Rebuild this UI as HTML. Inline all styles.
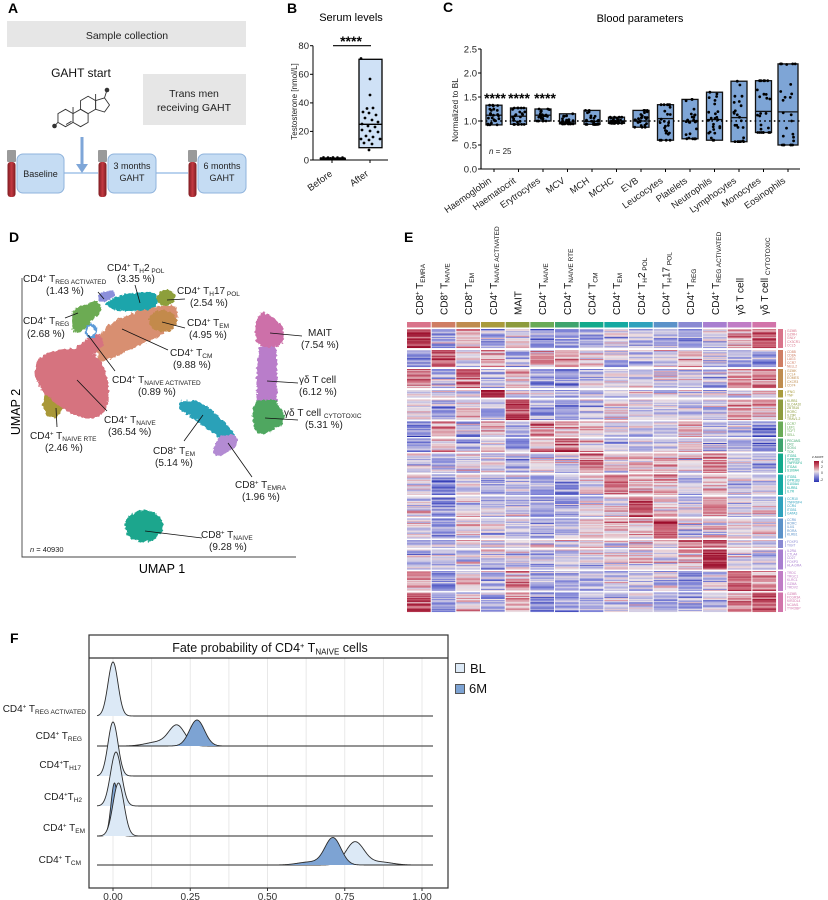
<!DOCTYPE html>
<html><head><meta charset="utf-8">
<style>
html,body{margin:0;padding:0;background:#fff;}
svg{display:block;font-family:"Liberation Sans",Arial,sans-serif;}
</style></head><body>
<svg width="828" height="900" viewBox="0 0 828 900" xmlns="http://www.w3.org/2000/svg">
<rect width="828" height="900" fill="#fff"/>
<defs>
<filter id="rough" x="-15%" y="-15%" width="130%" height="130%">
<feTurbulence type="fractalNoise" baseFrequency="0.3" numOctaves="2" seed="4"/>
<feDisplacementMap in="SourceGraphic" scale="5" xChannelSelector="R" yChannelSelector="G"/>
</filter>
<linearGradient id="tube" x1="0" x2="1"><stop offset="0" stop-color="#7d1a20"/><stop offset="0.5" stop-color="#c53a42"/><stop offset="1" stop-color="#7d1a20"/></linearGradient>
<linearGradient id="zs" x1="0" y1="0" x2="0" y2="1"><stop offset="0" stop-color="#a0102d"/><stop offset="0.25" stop-color="#cd6474"/><stop offset="0.5" stop-color="#ebe1e3"/><stop offset="0.75" stop-color="#8387d6"/><stop offset="1" stop-color="#2832b0"/></linearGradient>
</defs>

<!-- panel letters -->
<g font-weight="bold" font-size="14" fill="#000">
<text x="8" y="13">A</text><text x="287" y="13">B</text><text x="443" y="12">C</text>
<text x="9" y="242">D</text><text x="404" y="242">E</text><text x="10" y="643">F</text>
</g>

<!-- ===== Panel A ===== -->
<rect x="7" y="21" width="239" height="26" fill="#e6e6e6"/>
<text x="127" y="39" font-size="10.5" text-anchor="middle" fill="#222">Sample collection</text>
<text x="81" y="77" font-size="12" text-anchor="middle" fill="#111">GAHT start</text>
<rect x="143" y="74" width="103" height="51" fill="#e6e6e6"/>
<text x="194" y="97" font-size="10.5" text-anchor="middle" fill="#222">Trans men</text>
<text x="194" y="111" font-size="10.5" text-anchor="middle" fill="#222">receiving GAHT</text>
<g stroke="#333" stroke-width="0.9" fill="none">
<polygon points="65.5,109.3 73.03,113.65 73.03,122.35 65.5,126.7 57.97,122.35 57.97,113.65"/>
<polygon points="80.57,109.3 88.1,113.65 88.1,122.35 80.57,126.7 73.03,122.35 73.03,113.65"/>
<polygon points="88.1,96.25 95.63,100.6 95.63,109.3 88.1,113.65 80.57,109.3 80.57,100.6"/>
<polygon points="95.63,100.6 95.63,109.3 104.5,112 109.5,104.95 104.5,97.9"/>
<line x1="66" y1="124.5" x2="71.5" y2="121.3"/>
<line x1="104.5" y1="97.9" x2="107" y2="90"/>
<line x1="57.97" y1="122.35" x2="54.5" y2="126"/>
<line x1="73.03" y1="113.65" x2="73.03" y2="107"/>
<line x1="95.63" y1="100.6" x2="95.63" y2="94"/>
</g>
<circle cx="107" cy="90" r="2.3" fill="#333"/>
<circle cx="54.5" cy="126" r="2.3" fill="#333"/>
<line x1="82" y1="137" x2="82" y2="165" stroke="#7ea6d8" stroke-width="3"/>
<polygon points="76,164 88,164 82,173" fill="#7ea6d8"/>
<g stroke="#8fb6e3" stroke-width="1.2"><line x1="63" y1="173" x2="98" y2="173"/><line x1="156" y1="173" x2="188" y2="173"/></g>
<g>
<rect x="7" y="150" width="9" height="12" rx="1" fill="#9a9a9a"/><rect x="7.5" y="162" width="8" height="35" rx="3" fill="url(#tube)"/>
<rect x="98" y="150" width="9" height="12" rx="1" fill="#9a9a9a"/><rect x="98.5" y="162" width="8" height="35" rx="3" fill="url(#tube)"/>
<rect x="188" y="150" width="9" height="12" rx="1" fill="#9a9a9a"/><rect x="188.5" y="162" width="8" height="35" rx="3" fill="url(#tube)"/>
</g>
<g fill="#c5dcf3" stroke="#8fb3dc" stroke-width="1">
<rect x="17" y="154" width="47" height="39" rx="6"/>
<rect x="108" y="154" width="48" height="39" rx="6"/>
<rect x="198" y="154" width="48" height="39" rx="6"/>
</g>
<g font-size="9" text-anchor="middle" fill="#222">
<text x="40.5" y="177">Baseline</text>
<text x="132" y="169">3 months</text><text x="132" y="181">GAHT</text>
<text x="222" y="169">6 months</text><text x="222" y="181">GAHT</text>
</g>

<!-- ===== Panel B ===== -->
<text x="351" y="21" font-size="11" text-anchor="middle">Serum levels</text>
<text x="351" y="46" font-size="14" text-anchor="middle" font-weight="bold">****</text>
<line x1="333" y1="45.7" x2="371" y2="45.7" stroke="#000" stroke-width="1.2"/>
<path d="M313,45.7 V160 H388" stroke="#000" stroke-width="1" fill="none"/>
<g stroke="#000" stroke-width="1">
<line x1="310" y1="45.7" x2="313" y2="45.7"/><line x1="310" y1="74.3" x2="313" y2="74.3"/><line x1="310" y1="102.9" x2="313" y2="102.9"/><line x1="310" y1="131.4" x2="313" y2="131.4"/><line x1="310" y1="160" x2="313" y2="160"/>
<line x1="332" y1="160" x2="332" y2="163"/><line x1="370" y1="160" x2="370" y2="163"/>
</g>
<g font-size="9.5" text-anchor="end" fill="#222">
<text x="309" y="49">80</text><text x="309" y="77.6">60</text><text x="309" y="106.2">40</text><text x="309" y="134.7">20</text><text x="309" y="163.3">0</text>
</g>
<text transform="translate(297,101.5) rotate(-90)" font-size="8" text-anchor="middle" fill="#222">Testosterone [nmol/L]</text>
<rect x="359" y="59.3" width="23" height="88.4" fill="#cfe1f6" stroke="#000" stroke-width="1.3"/>
<line x1="359" y1="124.3" x2="382" y2="124.3" stroke="#000" stroke-width="1.3"/>
<g fill="#000">
<circle cx="361" cy="58.5" r="1.4"/><circle cx="370" cy="79" r="1.4"/><circle cx="370" cy="95" r="1.4"/><circle cx="367" cy="108.5" r="1.4"/><circle cx="373" cy="108" r="1.4"/>
<circle cx="363" cy="112" r="1.4"/><circle cx="369" cy="113" r="1.4"/><circle cx="376" cy="115" r="1.4"/><circle cx="365" cy="118" r="1.4"/><circle cx="372" cy="120" r="1.4"/>
<circle cx="378" cy="122" r="1.4"/><circle cx="362" cy="124" r="1.4"/><circle cx="368" cy="126" r="1.4"/><circle cx="375" cy="127" r="1.4"/><circle cx="362" cy="130" r="1.4"/>
<circle cx="370" cy="131" r="1.4"/><circle cx="378" cy="132" r="1.4"/><circle cx="366" cy="136" r="1.4"/><circle cx="373" cy="137" r="1.4"/><circle cx="361" cy="139" r="1.4"/>
<circle cx="369" cy="140" r="1.4"/><circle cx="380" cy="139" r="1.4"/><circle cx="364" cy="143" r="1.4"/><circle cx="372" cy="144" r="1.4"/><circle cx="369" cy="150" r="1.4"/>
<circle cx="321" cy="158.5" r="1.4"/><circle cx="323.5" cy="157.5" r="1.4"/><circle cx="326" cy="158.7" r="1.4"/><circle cx="328" cy="157.6" r="1.4"/><circle cx="330.5" cy="158.4" r="1.4"/>
<circle cx="333" cy="157.5" r="1.4"/><circle cx="335" cy="158.8" r="1.4"/><circle cx="337.5" cy="157.7" r="1.4"/><circle cx="340" cy="158.5" r="1.4"/><circle cx="342.5" cy="157.6" r="1.4"/><circle cx="344.5" cy="158.6" r="1.4"/>
</g>
<line x1="320" y1="159" x2="346" y2="159" stroke="#000" stroke-width="1.2"/>
<g font-size="9.5" text-anchor="end" fill="#222">
<text transform="translate(333,175) rotate(-36)">Before</text>
<text transform="translate(369,175) rotate(-36)">After</text>
</g>

<!-- ===== Panel C ===== -->
<text x="640" y="22" font-size="11" text-anchor="middle">Blood parameters</text>
<g id="cbox"></g>
<path d="M481,121 H800" stroke="#000" stroke-width="1.6" stroke-dasharray="1.6,3.2" fill="none"/>
<path d="M481,49 V169 H800" stroke="#000" stroke-width="1.1" fill="none"/>
<g stroke="#000" stroke-width="1">
<line x1="478" y1="49" x2="481" y2="49"/><line x1="478" y1="73" x2="481" y2="73"/><line x1="478" y1="97" x2="481" y2="97"/><line x1="478" y1="121" x2="481" y2="121"/><line x1="478" y1="145" x2="481" y2="145"/><line x1="478" y1="169" x2="481" y2="169"/>
</g>
<g id="cticks" stroke="#000" stroke-width="1"></g>
<g font-size="9.5" text-anchor="end" fill="#222">
<text x="477" y="52.4">2.5</text><text x="477" y="76.4">2.0</text><text x="477" y="100.4">1.5</text><text x="477" y="124.4">1.0</text><text x="477" y="148.4">0.5</text><text x="477" y="172.4">0.0</text>
</g>
<text transform="translate(458,110) rotate(-90)" font-size="8.3" text-anchor="middle" fill="#222">Normalized to BL</text>
<text x="489" y="154" font-size="8" fill="#222"><tspan font-style="italic">n</tspan> = 25</text>
<g font-size="14" font-weight="bold" text-anchor="middle">
<text x="495" y="103">****</text><text x="519" y="103">****</text><text x="545" y="103">****</text>
</g>
<g font-size="9.3" text-anchor="end" fill="#222">
<text transform="translate(492,182) rotate(-35)">Haemoglobin</text>
<text transform="translate(516.5,182) rotate(-35)">Haematocrit</text>
<text transform="translate(541,182) rotate(-35)">Erytrocytes</text>
<text transform="translate(565.5,182) rotate(-35)">MCV</text>
<text transform="translate(590,182) rotate(-35)">MCH</text>
<text transform="translate(614.5,182) rotate(-35)">MCHC</text>
<text transform="translate(639,182) rotate(-35)">EVB</text>
<text transform="translate(663.5,182) rotate(-35)">Leucocytes</text>
<text transform="translate(688,182) rotate(-35)">Platelets</text>
<text transform="translate(712.5,182) rotate(-35)">Neutrophils</text>
<text transform="translate(737,182) rotate(-35)">Lymphocytes</text>
<text transform="translate(761.5,182) rotate(-35)">Monocytes</text>
<text transform="translate(786,182) rotate(-35)">Eosinophils</text>
</g>

<!-- ===== Panel D ===== -->
<g filter="url(#rough)">
<ellipse cx="53" cy="404" rx="10" ry="14" fill="#a99839"/>
<path d="M97,362 L98,340 L105,328 L120,318 L140,310 L160,306 L176,306 L178,318 L172,328 L160,336 L145,343 L125,352 L108,360 Z" fill="#d88f71"/>
<path d="M70,352 L88,338 L100,334 L104,345 L95,354 Z" fill="#d6737f"/>
<path d="M35,368 C38,352 60,347 80,349 C98,351 106,368 108,385 C110,402 106,416 94,418 C80,420 62,410 50,398 C40,390 34,380 35,368 Z" fill="#d6737f"/>
<ellipse cx="163" cy="321" rx="14" ry="11" fill="#c38a4c"/>
<path d="M105,304 C112,297 125,294 140,292 C150,291 157,293 158,300 C158,307 150,310 138,311 C125,312 112,311 105,304 Z" fill="#1ea5ab"/>
<ellipse cx="166" cy="298" rx="9" ry="8" fill="#8d9f3b"/>
<ellipse cx="106" cy="296" rx="9" ry="5" fill="#8b8fdb" transform="rotate(-20 106 296)"/>
<path d="M73,312 C78,305 88,302 98,302 L102,308 C98,316 90,324 80,332 L74,333 C71,325 71,318 73,312 Z" fill="#6cab52"/>
<ellipse cx="91" cy="331" rx="5" ry="6" fill="none" stroke="#5b9bd8" stroke-width="2.5"/>
<path d="M260,313 C265,311 270,315 275,320 C282,323 285,330 284,340 C283,346 275,348 266,348 C258,347 255,340 255,332 C255,324 257,318 260,313 Z" fill="#cd70a9"/>
<path d="M259,347 L276,347 C278,360 277,380 277,395 L276,403 L257,403 C256,390 256,370 259,347 Z" fill="#b97dca"/>
<path d="M256,400 L276,400 C278,406 282,410 284,414 C285,420 283,426 276,428 C272,432 266,435 258,434 C253,428 252,418 253,410 C254,405 255,402 256,400 Z" fill="#4fa761"/>
<path d="M180,402 C188,399 198,401 205,405 C213,410 220,418 228,426 C234,432 238,440 236,446 L228,447 C222,440 214,434 206,428 C198,421 190,416 183,412 C179,409 178,405 180,402 Z" fill="#2ca1b8"/>
<path d="M221,436 C228,433 236,434 238,440 C238,446 232,450 226,453 C220,456 214,458 213,453 C213,446 216,440 221,436 Z" fill="#b38bd3"/>
<ellipse cx="144" cy="526" rx="19" ry="16" fill="#1ba68d"/>
</g>
<path d="M22,278 V557 H296" stroke="#444" stroke-width="0.9" fill="none"/>
<text transform="translate(20,412) rotate(-90)" font-size="12.5" text-anchor="middle">UMAP 2</text>
<text x="162" y="573" font-size="12.5" text-anchor="middle">UMAP 1</text>
<text x="30" y="552" font-size="7.5" fill="#222"><tspan font-style="italic">n</tspan> = 40930</text>
<g stroke="#111" stroke-width="0.8">
<line x1="98" y1="292" x2="104" y2="299"/><line x1="135" y1="285" x2="140" y2="303"/><line x1="167" y1="300" x2="185" y2="299"/>
<line x1="65" y1="318" x2="78" y2="313"/><line x1="162" y1="322" x2="185" y2="328"/><line x1="270" y1="333" x2="302" y2="336"/>
<line x1="122" y1="329" x2="168" y2="350"/><line x1="88" y1="335" x2="115" y2="371"/><line x1="267" y1="381" x2="298" y2="383"/>
<line x1="265" y1="418" x2="298" y2="420"/><line x1="77" y1="380" x2="107" y2="411"/><line x1="56" y1="408" x2="57" y2="427"/>
<line x1="203" y1="415" x2="184" y2="441"/><line x1="228" y1="443" x2="252" y2="477"/><line x1="145" y1="531" x2="202" y2="538"/>
</g>
<g font-size="10" fill="#222">
<text x="23" y="282">CD4<tspan font-size="6" dy="-3.5">+</tspan><tspan dy="3.5"> T</tspan><tspan font-size="6.5" dy="2">REG ACTIVATED</tspan></text>
<text x="46" y="294">(1.43 %)</text>
<text x="107" y="271">CD4<tspan font-size="6" dy="-3.5">+</tspan><tspan dy="3.5"> T</tspan><tspan font-size="6.5" dy="2">H</tspan><tspan dy="-2">2</tspan><tspan font-size="6.5" dy="2"> POL</tspan></text>
<text x="117" y="282">(3.35 %)</text>
<text x="177" y="294">CD4<tspan font-size="6" dy="-3.5">+</tspan><tspan dy="3.5"> T</tspan><tspan font-size="6.5" dy="2">H</tspan><tspan dy="-2">17</tspan><tspan font-size="6.5" dy="2"> POL</tspan></text>
<text x="190" y="306">(2.54 %)</text>
<text x="23" y="324">CD4<tspan font-size="6" dy="-3.5">+</tspan><tspan dy="3.5"> T</tspan><tspan font-size="6.5" dy="2">REG</tspan></text>
<text x="27" y="337">(2.68 %)</text>
<text x="187" y="326">CD4<tspan font-size="6" dy="-3.5">+</tspan><tspan dy="3.5"> T</tspan><tspan font-size="6.5" dy="2">EM</tspan></text>
<text x="189" y="338">(4.95 %)</text>
<text x="308" y="336">MAIT</text>
<text x="301" y="348">(7.54 %)</text>
<text x="170" y="356">CD4<tspan font-size="6" dy="-3.5">+</tspan><tspan dy="3.5"> T</tspan><tspan font-size="6.5" dy="2">CM</tspan></text>
<text x="173" y="368">(9.88 %)</text>
<text x="112" y="383">CD4<tspan font-size="6" dy="-3.5">+</tspan><tspan dy="3.5"> T</tspan><tspan font-size="6.5" dy="2">NAIVE ACTIVATED</tspan></text>
<text x="138" y="395">(0.89 %)</text>
<text x="299" y="383">γδ T cell</text>
<text x="299" y="395">(6.12 %)</text>
<text x="284" y="416">γδ T cell <tspan font-size="6.5" dy="2">CYTOTOXIC</tspan></text>
<text x="305" y="428">(5.31 %)</text>
<text x="104" y="423">CD4<tspan font-size="6" dy="-3.5">+</tspan><tspan dy="3.5"> T</tspan><tspan font-size="6.5" dy="2">NAIVE</tspan></text>
<text x="108" y="435">(36.54 %)</text>
<text x="30" y="439">CD4<tspan font-size="6" dy="-3.5">+</tspan><tspan dy="3.5"> T</tspan><tspan font-size="6.5" dy="2">NAIVE RTE</tspan></text>
<text x="45" y="451">(2.46 %)</text>
<text x="153" y="454">CD8<tspan font-size="6" dy="-3.5">+</tspan><tspan dy="3.5"> T</tspan><tspan font-size="6.5" dy="2">EM</tspan></text>
<text x="155" y="466">(5.14 %)</text>
<text x="235" y="488">CD8<tspan font-size="6" dy="-3.5">+</tspan><tspan dy="3.5"> T</tspan><tspan font-size="6.5" dy="2">EMRA</tspan></text>
<text x="242" y="500">(1.96 %)</text>
<text x="201" y="538">CD8<tspan font-size="6" dy="-3.5">+</tspan><tspan dy="3.5"> T</tspan><tspan font-size="6.5" dy="2">NAIVE</tspan></text>
<text x="209" y="550">(9.28 %)</text>
</g>

<!-- ===== Panel E ===== -->
<g font-size="10" fill="#111">
<text transform="translate(422.8,315) rotate(-90)">CD8<tspan font-size="6" dy="-3.5">+</tspan><tspan dy="3.5"> T</tspan><tspan font-size="6.5" dy="2">EMRA</tspan></text>
<text transform="translate(447.5,315) rotate(-90)">CD8<tspan font-size="6" dy="-3.5">+</tspan><tspan dy="3.5"> T</tspan><tspan font-size="6.5" dy="2">NAIVE</tspan></text>
<text transform="translate(472.1,315) rotate(-90)">CD8<tspan font-size="6" dy="-3.5">+</tspan><tspan dy="3.5"> T</tspan><tspan font-size="6.5" dy="2">EM</tspan></text>
<text transform="translate(496.8,315) rotate(-90)">CD4<tspan font-size="6" dy="-3.5">+</tspan><tspan dy="3.5"> T</tspan><tspan font-size="6.5" dy="2">NAIVE ACTIVATED</tspan></text>
<text transform="translate(521.5,315) rotate(-90)">MAIT</text>
<text transform="translate(546.1,315) rotate(-90)">CD4<tspan font-size="6" dy="-3.5">+</tspan><tspan dy="3.5"> T</tspan><tspan font-size="6.5" dy="2">NAIVE</tspan></text>
<text transform="translate(570.8,315) rotate(-90)">CD4<tspan font-size="6" dy="-3.5">+</tspan><tspan dy="3.5"> T</tspan><tspan font-size="6.5" dy="2">NAIVE RTE</tspan></text>
<text transform="translate(595.5,315) rotate(-90)">CD4<tspan font-size="6" dy="-3.5">+</tspan><tspan dy="3.5"> T</tspan><tspan font-size="6.5" dy="2">CM</tspan></text>
<text transform="translate(620.1,315) rotate(-90)">CD4<tspan font-size="6" dy="-3.5">+</tspan><tspan dy="3.5"> T</tspan><tspan font-size="6.5" dy="2">EM</tspan></text>
<text transform="translate(644.8,315) rotate(-90)">CD4<tspan font-size="6" dy="-3.5">+</tspan><tspan dy="3.5"> T</tspan><tspan font-size="6.5" dy="2">H</tspan><tspan dy="-2">2</tspan><tspan font-size="6.5" dy="2"> POL</tspan></text>
<text transform="translate(669.5,315) rotate(-90)">CD4<tspan font-size="6" dy="-3.5">+</tspan><tspan dy="3.5"> T</tspan><tspan font-size="6.5" dy="2">H</tspan><tspan dy="-2">17</tspan><tspan font-size="6.5" dy="2"> POL</tspan></text>
<text transform="translate(694.1,315) rotate(-90)">CD4<tspan font-size="6" dy="-3.5">+</tspan><tspan dy="3.5"> T</tspan><tspan font-size="6.5" dy="2">REG</tspan></text>
<text transform="translate(718.8,315) rotate(-90)">CD4<tspan font-size="6" dy="-3.5">+</tspan><tspan dy="3.5"> T</tspan><tspan font-size="6.5" dy="2">REG ACTIVATED</tspan></text>
<text transform="translate(743.5,315) rotate(-90)">γδ T cell</text>
<text transform="translate(768.1,315) rotate(-90)">γδ T cell <tspan font-size="6.5" dy="2">CYTOTOXIC</tspan></text>
</g>
<g id="hmtop"></g>
<g id="hm"></g>
<g id="hmside"></g>
<g font-size="3.3">
<text x="787" y="332" fill="#d9738a"><tspan x="787">GZMB</tspan><tspan x="787" dy="3.6">GZMH</tspan><tspan x="787" dy="3.6">GNLY</tspan><tspan x="787" dy="3.6">CX3CR1</tspan><tspan x="787" dy="3.6">CCL5</tspan></text>
<text x="787" y="353" fill="#cf7d63"><tspan x="787">CD8B</tspan><tspan x="787" dy="3.6">CD8A</tspan><tspan x="787" dy="3.6">LAG3</tspan><tspan x="787" dy="3.6">CCR7</tspan><tspan x="787" dy="3.6">NELL2</tspan></text>
<text x="787" y="372" fill="#bf8c4e"><tspan x="787">GZMK</tspan><tspan x="787" dy="3.6">CCL4</tspan><tspan x="787" dy="3.6">EOMES</tspan><tspan x="787" dy="3.6">CXCR3</tspan><tspan x="787" dy="3.6">CD74</tspan></text>
<text x="787" y="393" fill="#a99b3c"><tspan x="787">IFNG</tspan><tspan x="787" dy="3.6">TNF</tspan></text>
<text x="787" y="402" fill="#8d9b3d"><tspan x="787">KLRB1</tspan><tspan x="787" dy="3.6">SLC4A10</tspan><tspan x="787" dy="3.6">ZBTB16</tspan><tspan x="787" dy="3.6">RORC</tspan><tspan x="787" dy="3.6">IL23R</tspan><tspan x="787" dy="3.6">TRAV1-2</tspan></text>
<text x="787" y="425" fill="#6aab57"><tspan x="787">CCR7</tspan><tspan x="787" dy="3.6">LEF1</tspan><tspan x="787" dy="3.6">TCF7</tspan><tspan x="787" dy="3.6">SELL</tspan></text>
<text x="787" y="442" fill="#3ea46e"><tspan x="787">PECAM1</tspan><tspan x="787" dy="3.6">CR2</tspan><tspan x="787" dy="3.6">SOX4</tspan><tspan x="787" dy="3.6">TOX</tspan></text>
<text x="787" y="457" fill="#12aa8c"><tspan x="787">ITGB1</tspan><tspan x="787" dy="3.6">GPR183</tspan><tspan x="787" dy="3.6">TNFRSF4</tspan><tspan x="787" dy="3.6">ITGA4</tspan><tspan x="787" dy="3.6">S100A4</tspan></text>
<text x="787" y="478" fill="#14a9a2"><tspan x="787">ITGB1</tspan><tspan x="787" dy="3.6">GPR183</tspan><tspan x="787" dy="3.6">S100A4</tspan><tspan x="787" dy="3.6">KLRB1</tspan><tspan x="787" dy="3.6">IL7R</tspan></text>
<text x="787" y="500" fill="#2fa2bd"><tspan x="787">CCR10</tspan><tspan x="787" dy="3.6">TNFRSF4</tspan><tspan x="787" dy="3.6">CCR4</tspan><tspan x="787" dy="3.6">ITGB1</tspan><tspan x="787" dy="3.6">GATA3</tspan></text>
<text x="787" y="521" fill="#5b92c9"><tspan x="787">CCR6</tspan><tspan x="787" dy="3.6">RORC</tspan><tspan x="787" dy="3.6">IL4I1</tspan><tspan x="787" dy="3.6">RORA</tspan><tspan x="787" dy="3.6">KLRB1</tspan></text>
<text x="787" y="543" fill="#8a8ad3"><tspan x="787">FOXP3</tspan><tspan x="787" dy="3.6">TIGIT</tspan></text>
<text x="787" y="552" fill="#a87ed0"><tspan x="787">IL2RA</tspan><tspan x="787" dy="3.6">CTLA4</tspan><tspan x="787" dy="3.6">CD27</tspan><tspan x="787" dy="3.6">FOXP3</tspan><tspan x="787" dy="3.6">HLA-DRA</tspan></text>
<text x="787" y="574" fill="#c07dc6"><tspan x="787">TRDC</tspan><tspan x="787" dy="3.6">TRGC1</tspan><tspan x="787" dy="3.6">KLRC1</tspan><tspan x="787" dy="3.6">GZMA</tspan><tspan x="787" dy="3.6">TRDV2</tspan></text>
<text x="787" y="595" fill="#d274aa"><tspan x="787">GZMB</tspan><tspan x="787" dy="3.6">FCGR3A</tspan><tspan x="787" dy="3.6">KIR2DL4</tspan><tspan x="787" dy="3.6">NCAM1</tspan><tspan x="787" dy="3.6">TYROBP</tspan></text>
</g>
<text x="812" y="458" font-size="3.5" fill="#333">z-score</text>
<rect x="814" y="461" width="5" height="21" fill="url(#zs)"/>
<g font-size="3.5" fill="#333"><text x="821" y="463">4</text><text x="821" y="468">2</text><text x="821" y="474">0</text><text x="820" y="481">-2</text></g>

<!-- ===== Panel F ===== -->
<g id="fgrid" stroke="#e6e6e6" stroke-width="0.9"></g>
<g id="ridges"></g>
<rect x="89" y="635" width="359" height="253" fill="none" stroke="#333" stroke-width="1.2"/>
<line x1="89" y1="658" x2="448" y2="658" stroke="#333" stroke-width="1.2"/>
<text x="270" y="652" font-size="12.5" text-anchor="middle" fill="#111">Fate probability of CD4<tspan font-size="7.5" dy="-4">+</tspan><tspan dy="4"> T</tspan><tspan font-size="8" dy="2.5">NAIVE</tspan><tspan dy="-2.5"> cells</tspan></text>
<g stroke="#333" stroke-width="1">
<line x1="113" y1="888" x2="113" y2="891"/><line x1="190.25" y1="888" x2="190.25" y2="891"/><line x1="267.5" y1="888" x2="267.5" y2="891"/><line x1="344.75" y1="888" x2="344.75" y2="891"/><line x1="422" y1="888" x2="422" y2="891"/>
</g>
<g font-size="10" text-anchor="middle" fill="#333">
<text x="113" y="900">0.00</text><text x="190.25" y="900">0.25</text><text x="267.5" y="900">0.50</text><text x="344.75" y="900">0.75</text><text x="422" y="900">1.00</text>
</g>
<g font-size="10" text-anchor="end" fill="#222">
<text x="86" y="712">CD4<tspan font-size="6" dy="-3.5">+</tspan><tspan dy="3.5"> T</tspan><tspan font-size="6.5" dy="2">REG ACTIVATED</tspan></text>
<text x="82" y="739">CD4<tspan font-size="6" dy="-3.5">+</tspan><tspan dy="3.5"> T</tspan><tspan font-size="6.5" dy="2">REG</tspan></text>
<text x="81" y="768">CD4<tspan font-size="6" dy="-3.5">+</tspan><tspan dy="3.5">T</tspan><tspan font-size="6.5" dy="2">H17</tspan></text>
<text x="82" y="800">CD4<tspan font-size="6" dy="-3.5">+</tspan><tspan dy="3.5">T</tspan><tspan font-size="6.5" dy="2">H2</tspan></text>
<text x="85" y="831">CD4<tspan font-size="6" dy="-3.5">+</tspan><tspan dy="3.5"> T</tspan><tspan font-size="6.5" dy="2">EM</tspan></text>
<text x="81" y="863">CD4<tspan font-size="6" dy="-3.5">+</tspan><tspan dy="3.5"> T</tspan><tspan font-size="6.5" dy="2">CM</tspan></text>
</g>
<rect x="455.5" y="663.5" width="9" height="9" fill="#dce9f6" stroke="#555" stroke-width="1"/>
<rect x="455.5" y="684.5" width="9" height="9" fill="#7da3d3" stroke="#555" stroke-width="1"/>
<text x="470" y="673" font-size="13" fill="#111">BL</text>
<text x="469" y="693" font-size="13" fill="#111">6M</text>
</svg>

<script>
(function(){
var seed=987654;
function r(){seed=(seed*1103515245+12345)%2147483648;return seed/2147483648;}
function gn(){return r()+r()+r()-1.5;}
/* ---- Panel C ---- */
function Y(v){return 169-48*v;}
var cats=[[1.33,0.92,1.12],[1.27,0.93,1.10],[1.25,1.00,1.12],[1.15,0.94,0.98],[1.22,0.93,0.99],[1.08,0.95,1.00],[1.22,0.87,1.00],[1.34,0.60,1.05],[1.45,0.63,1.00],[1.60,0.60,1.03],[1.83,0.57,1.07],[1.84,0.76,1.20],[2.19,0.50,1.19]];
var out=[],tk=[];
cats.forEach(function(d,i){var cx=494+24.5*i,w=(i==12?20:16);
 tk.push('<line x1="'+cx+'" x2="'+cx+'" y1="169" y2="172"/>');
 out.push('<rect x="'+(cx-w/2)+'" y="'+Y(d[0]).toFixed(1)+'" width="'+w+'" height="'+(Y(d[1])-Y(d[0])).toFixed(1)+'" fill="#7ea5d6" stroke="#111" stroke-width="1.3"/>');
 out.push('<line x1="'+(cx-w/2)+'" x2="'+(cx+w/2)+'" y1="'+Y(d[2]).toFixed(1)+'" y2="'+Y(d[2]).toFixed(1)+'" stroke="#111" stroke-width="1.3"/>');
 for(var k=0;k<25;k++){var v;
  if(k==0)v=d[0];else if(k==1)v=d[1];else{v=d[2]+gn()*(d[0]-d[1])*0.75;v=Math.max(d[1],Math.min(d[0],v));}
  var x=cx+(r()-0.5)*(w-3);
  out.push('<circle cx="'+x.toFixed(1)+'" cy="'+Y(v).toFixed(1)+'" r="1.4" fill="#000"/>');}
});
document.getElementById('cbox').innerHTML=out.join('');
document.getElementById('cticks').innerHTML=tk.join('');

/* ---- Panel E heatmap ---- */
var cc=["#d9738a","#cf7d63","#bf8c4e","#a99b3c","#8d9b3d","#6aab57","#3ea46e","#12aa8c","#14a9a2","#2fa2bd","#5b92c9","#8a8ad3","#a87ed0","#c07dc6","#d274aa"];
var blocks=[[329,348],[350,367],[369,388],[390,397.5],[399.5,420],[421.5,437],[438.5,452],[453.5,473],[474.5,495],[496.5,517],[518.5,538.5],[540,548],[549.5,569.5],[571,591],[592.5,612]];
var M=[
[1.8,-0.8,0.3,-0.6,0.1,-0.8,-0.8,-0.7,-0.3,-0.5,-0.6,-0.8,-0.3,0.5,1.2],
[-1.0,1.2,-0.2,0.4,-0.6,0.5,0.5,0,-0.4,-0.4,-0.4,0.3,-0.3,-0.5,-0.7],
[0.9,-0.5,0.9,-0.6,0.2,-0.8,-0.9,-0.3,0,-0.2,-0.4,-0.3,-0.4,0.6,0.7],
[-0.2,-0.4,0,2.0,0.1,-0.4,-0.2,0,-0.1,-0.1,-0.1,-0.1,-0.2,-0.2,0],
[0.3,-0.6,0.2,-0.5,1.5,-0.7,-0.6,-0.3,0,-0.2,-0.2,-0.5,-0.4,0.6,0.4],
[-1.2,0.4,-0.5,0.5,-0.6,0.7,0.5,0,-0.3,-0.4,-0.4,0.3,-0.4,-0.7,-1.0],
[-0.8,0.4,-0.4,0.2,-0.7,0.6,1.3,0.1,-0.3,-0.2,-0.3,0.1,-0.3,-0.6,-0.7],
[-0.3,-0.6,-0.2,-0.1,-0.5,-0.2,-0.3,0.7,0.1,0.4,0.2,0,0.9,-0.4,-0.6],
[-0.2,-0.9,-0.1,-0.4,-0.3,-0.7,-0.7,0,0.8,0.4,0.5,-0.4,0.2,-0.3,-0.1],
[0,-0.9,-0.1,-0.4,-0.3,-0.7,-0.7,0,0.2,1.2,0.3,-0.1,0.7,-0.2,0],
[-0.1,-0.8,-0.1,-0.3,-0.2,-0.6,-0.6,0.1,0.5,0.3,1.2,-0.4,0.1,-0.1,0],
[-0.3,-0.3,0,-0.2,-0.2,0,0,0.1,0,0.2,0.1,1.0,1.0,-0.1,-0.4],
[-0.3,-0.5,-0.2,-0.3,-0.3,-0.5,-0.3,0,0,0.1,0,0.5,1.8,-0.2,-0.3],
[0.7,-0.8,0.3,-0.5,0.5,-0.7,-0.6,-0.4,-0.2,-0.2,-0.2,-0.5,-0.4,1.2,0.7],
[1.5,-0.7,0.3,-0.6,0.4,-0.8,-0.8,-0.6,-0.2,-0.3,-0.4,-0.6,-0.4,0.8,1.4]];
var stops=[[-2,40,50,175],[-1,125,130,215],[0,236,226,230],[1,205,100,118],[2,155,12,42]];
function col(v){if(v<-2)v=-2;if(v>2)v=2;
 for(var i=0;i<4;i++){if(v<=stops[i+1][0]){var a=stops[i],b=stops[i+1],t=(v-a[0])/(b[0]-a[0]);
  return 'rgb('+Math.round(a[1]+(b[1]-a[1])*t)+','+Math.round(a[2]+(b[2]-a[2])*t)+','+Math.round(a[3]+(b[3]-a[3])*t)+')';}}
 return 'rgb(155,12,42)';}
var h=[],top=[],side=[];
for(var c=0;c<15;c++){top.push('<rect x="'+(407+c*24.67).toFixed(2)+'" y="322" width="23.7" height="5.5" fill="'+cc[c]+'"/>');}
blocks.forEach(function(b,bi){var y0=b[0],y1=b[1],hh=y1-y0,n=Math.max(3,Math.round(hh/1.1)),sh=hh/n;
 side.push('<rect x="778" y="'+y0+'" width="5" height="'+hh+'" fill="'+cc[bi]+'"/>');
 side.push('<line x1="785.5" x2="785.5" y1="'+(y0+1)+'" y2="'+(y1-1)+'" stroke="'+cc[bi]+'" stroke-width="0.5"/>');
 var rowoff=[];for(var k=0;k<n;k++)rowoff.push(gn()*0.5);
 for(var c=0;c<15;c++){var x=407+c*24.67;
  for(var k=0;k<n;k++){var v=M[bi][c]+gn()*0.9+rowoff[k]*(M[bi][c]>0.6?1:0.6);
   h.push('<rect x="'+x.toFixed(2)+'" y="'+(y0+k*sh).toFixed(2)+'" width="23.7" height="'+(sh+0.06).toFixed(2)+'" fill="'+col(v)+'"/>');}}
});
document.getElementById('hm').innerHTML=h.join('');
document.getElementById('hmtop').innerHTML=top.join('');
document.getElementById('hmside').innerHTML=side.join('');

/* ---- Panel F ---- */
var g=[];for(var k=0;k<=8;k++){var x=113+309*k/8;g.push('<line x1="'+x.toFixed(2)+'" x2="'+x.toFixed(2)+'" y1="658" y2="888"/>');}
document.getElementById('fgrid').innerHTML=g.join('');
var L='#dce9f6',D='#7da3d3';
var ridges=[
 {b:716,c:[[L,[[113,5,54]]]]},
 {b:746,c:[[L,[[177,8,20],[158,12,4]]],[D,[[197,7.5,26]]]]},
 {b:776,c:[[L,[[113,5,54]]]]},
 {b:806,c:[[L,[[116,5.5,54]]]]},
 {b:836,c:[[D,[[114.5,3.5,53]]],[L,[[118.5,5.5,53]]]]},
 {b:865,c:[[L,[[355,9,23],[380,12,3]]],[D,[[333,8,27],[310,12,3]]]]}
];
var p=[];
ridges.forEach(function(rd){rd.c.forEach(function(cv){
 var pts=[];for(var x=97;x<=433;x+=0.5){var y=0;cv[1].forEach(function(q){y+=q[2]*Math.exp(-(x-q[0])*(x-q[0])/(2*q[1]*q[1]));});pts.push(x.toFixed(1)+','+(rd.b-y).toFixed(2));}
 p.push('<path d="M97,'+rd.b+' L'+pts.join(' L')+' L433,'+rd.b+' Z" fill="'+cv[0]+'" stroke="none"/>');
 p.push('<path d="M'+pts.join(' L')+'" fill="none" stroke="#2a2a2a" stroke-width="0.9"/>');
});});
document.getElementById('ridges').innerHTML=p.join('');
})();
</script>
</body></html>
